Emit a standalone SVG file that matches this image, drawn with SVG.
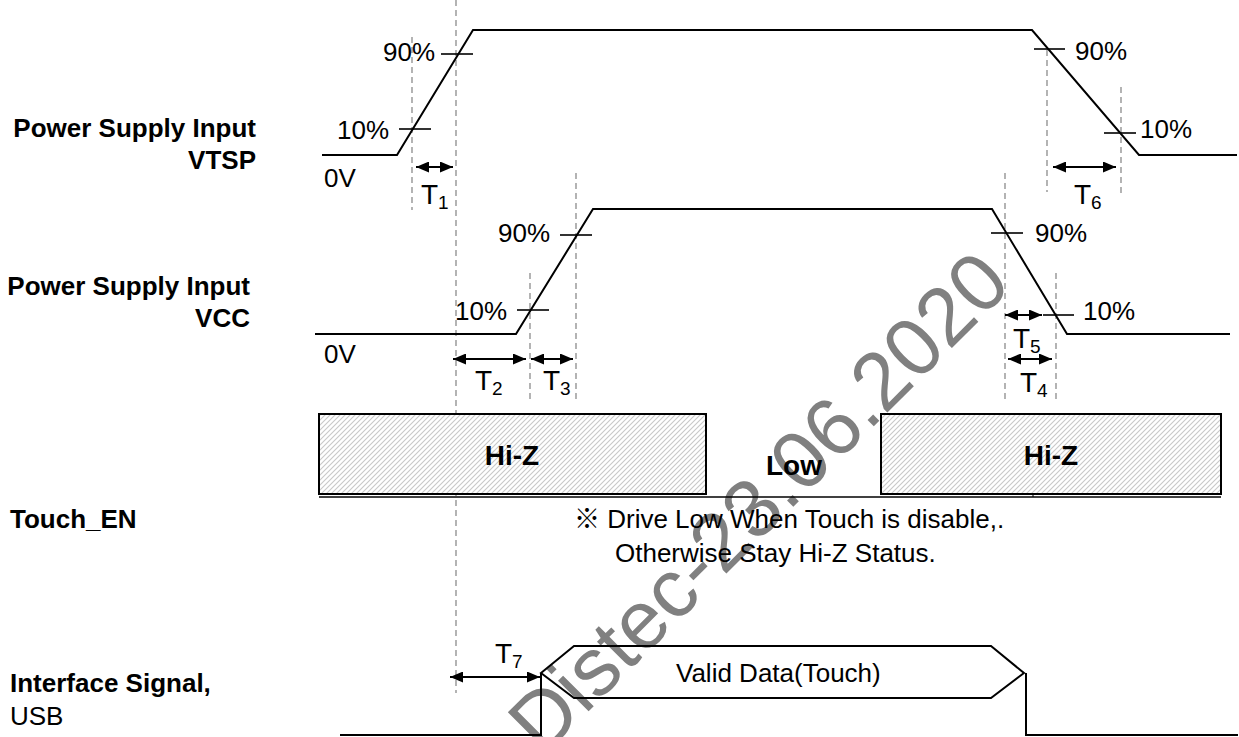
<svg xmlns="http://www.w3.org/2000/svg" width="1239" height="737" viewBox="0 0 1239 737">
  <defs>
    <style>
      .t { font-family: "Liberation Sans", Arial, "Noto Sans CJK JP", sans-serif; font-size: 26px; fill: #000; }
      .b { font-family: "Liberation Sans", Arial, sans-serif; font-size: 26px; font-weight: bold; fill: #000; }
      .bb { font-family: "Liberation Sans", Arial, sans-serif; font-size: 28px; font-weight: bold; fill: #000; }
      .tt { font-family: "Liberation Sans", Arial, sans-serif; font-size: 28px; fill: #000; }
      .sub { font-size: 19px; }
      .w { fill: none; stroke: #000; stroke-width: 2; stroke-linejoin: miter; }
      .tick { stroke: #000; stroke-width: 1.6; }
      .dash { stroke: #8c8c8c; stroke-width: 1.3; stroke-dasharray: 6 4; fill: none; }
      .arr { stroke: #000; stroke-width: 2; marker-start: url(#ah); marker-end: url(#ah); }
      .box { fill: url(#hatch); stroke: #000; stroke-width: 2; }
      .wm { font-family: "Liberation Sans", Arial, sans-serif; font-size: 82px; fill: #808080; }
    </style>
    <marker id="ah" markerUnits="userSpaceOnUse" markerWidth="13" markerHeight="11" refX="13" refY="5.5" orient="auto-start-reverse">
      <path d="M0,0 L13,5.5 L0,11 Z" fill="#000"/>
    </marker>
    <pattern id="hatch" patternUnits="userSpaceOnUse" width="5" height="5">
      <rect width="5" height="5" fill="#fff"/>
      <path d="M-1,1 L1,-1 M0,5 L5,0 M4,6 L6,4" stroke="#c8c8c8" stroke-width="1.1"/>
    </pattern>
  </defs>
  <rect width="1239" height="737" fill="#fff"/>

  <text class="wm" transform="translate(543,757) rotate(-45)">Distec-23.06.2020</text>

  <g id="guides">
    <line class="dash" x1="412" y1="37" x2="412" y2="210"/>
    <line class="dash" x1="456" y1="0" x2="456" y2="693"/>
    <line class="dash" x1="1047" y1="50" x2="1047" y2="192"/>
    <line class="dash" x1="1121" y1="87" x2="1121" y2="195"/>
    <line class="dash" x1="530" y1="273" x2="530" y2="399"/>
    <line class="dash" x1="576" y1="173" x2="576" y2="399"/>
    <line class="dash" x1="1005" y1="173" x2="1005" y2="400"/>
    <line class="dash" x1="1056" y1="273" x2="1056" y2="399"/>
  </g>

  <g id="vtsp">
    <text class="b" x="256" y="137" text-anchor="end">Power Supply Input</text>
    <text class="b" x="256" y="169" text-anchor="end">VTSP</text>
    <path class="w" d="M322,155 H397 L473,30 H1032 L1139,155 H1237"/>
    <line class="tick" x1="441" y1="54" x2="473" y2="54"/>
    <line class="tick" x1="399" y1="129" x2="431" y2="129"/>
    <line class="tick" x1="1034" y1="49" x2="1065" y2="49"/>
    <line class="tick" x1="1104" y1="133" x2="1136" y2="133"/>
    <text class="t" x="383" y="61">90%</text>
    <text class="t" x="337" y="139">10%</text>
    <text class="t" x="324" y="187">0V</text>
    <text class="t" x="1075" y="60">90%</text>
    <text class="t" x="1140" y="138">10%</text>
  </g>

  <g id="vcc">
    <text class="b" x="250" y="295" text-anchor="end">Power Supply Input</text>
    <text class="b" x="250" y="327" text-anchor="end">VCC</text>
    <path class="w" d="M315,334 H516 L593,209 H992 L1067,334 H1230"/>
    <line class="tick" x1="560" y1="235" x2="592" y2="235"/>
    <line class="tick" x1="517" y1="310" x2="549" y2="310"/>
    <line class="tick" x1="991" y1="233" x2="1023" y2="233"/>
    <line class="tick" x1="1043" y1="315" x2="1074" y2="315"/>
    <text class="t" x="498" y="242">90%</text>
    <text class="t" x="455" y="320">10%</text>
    <text class="t" x="324" y="363">0V</text>
    <text class="t" x="1035" y="242">90%</text>
    <text class="t" x="1083" y="320">10%</text>
  </g>

  <g id="touch_en">
    <text class="b" x="10" y="528">Touch_EN</text>
    <rect class="box" x="319" y="414" width="387" height="80"/>
    <rect class="box" x="881" y="414" width="340" height="80"/>
    <line x1="319" y1="497" x2="1221" y2="497" stroke="#000" stroke-width="1.6"/>
    <line x1="1033" y1="494" x2="1033" y2="497" stroke="#000" stroke-width="1"/>
    <text class="bb" x="512" y="465" text-anchor="middle">Hi-Z</text>
    <text class="bb" x="1051" y="465" text-anchor="middle">Hi-Z</text>
    <text class="bb" x="794" y="475" text-anchor="middle">Low</text>
    <text class="t" x="574" y="528">※ Drive Low When Touch is disable,.</text>
    <text class="t" x="615" y="562">Otherwise Stay Hi-Z Status.</text>
  </g>

  <g id="usb">
    <text class="b" x="10" y="692">Interface Signal,</text>
    <text class="t" x="10" y="725">USB</text>
    <path class="w" d="M340,735 H541 V673"/>
    <path class="w" d="M541,673 L574,646 H991 L1024,673 L991,698 H574 Z"/>
    <path class="w" d="M1026,673 V735 H1238"/>
    <text class="t" x="676" y="682">Valid Data(Touch)</text>
  </g>

  <g id="connectors">
    <line class="arr" x1="416" y1="167" x2="453" y2="167"/>
    <line class="arr" x1="1053" y1="167" x2="1116" y2="167"/>
    <line class="arr" x1="453" y1="359" x2="526" y2="359"/>
    <line class="arr" x1="531" y1="359" x2="573" y2="359"/>
    <line class="arr" x1="1005" y1="315" x2="1042" y2="315"/>
    <line class="arr" x1="1008" y1="359" x2="1052" y2="359"/>
    <line class="arr" x1="450" y1="677" x2="540" y2="677"/>
  </g>

  <g id="timing-labels">
    <text class="tt" x="421" y="204">T<tspan class="sub" dy="5">1</tspan></text>
    <text class="tt" x="1074" y="204">T<tspan class="sub" dy="5">6</tspan></text>
    <text class="tt" x="475" y="390">T<tspan class="sub" dy="5">2</tspan></text>
    <text class="tt" x="543" y="390">T<tspan class="sub" dy="5">3</tspan></text>
    <text class="tt" x="1013" y="348">T<tspan class="sub" dy="5">5</tspan></text>
    <text class="tt" x="1020" y="392">T<tspan class="sub" dy="5">4</tspan></text>
    <text class="tt" x="495" y="663">T<tspan class="sub" dy="5">7</tspan></text>
  </g>
</svg>
